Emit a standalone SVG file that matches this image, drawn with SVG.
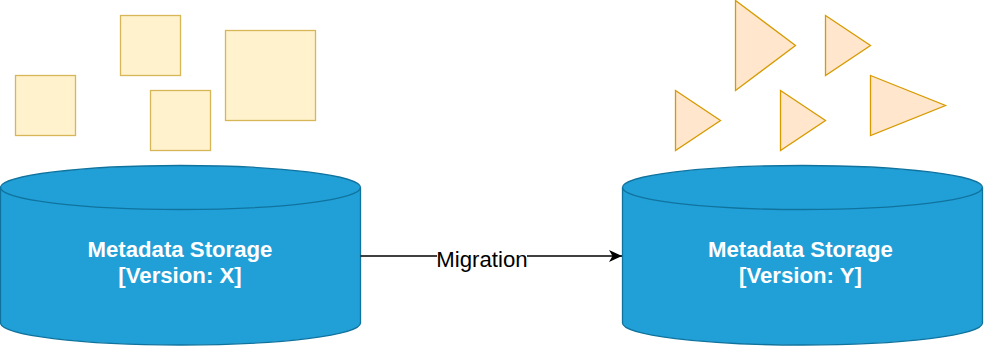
<svg xmlns="http://www.w3.org/2000/svg" width="984" height="347" viewBox="0 0 984 347">
  <style>
    .sq { fill: #fff2cc; stroke: #d6b656; stroke-width: 1.3; }
    .tri { fill: #ffe6cc; stroke: #d79b00; stroke-width: 1.3; stroke-linejoin: miter; }
    .cyl { fill: #21a0d8; stroke: #10739e; stroke-width: 1.3; }
    .cyl-line { fill: none; stroke: #10739e; stroke-width: 1.3; }
    .label { font-family: "Liberation Sans", Arial, Helvetica, sans-serif; font-size: 22.2px; font-weight: bold; fill: #ffffff; text-anchor: middle; }
    .edge { stroke: #000000; stroke-width: 1.3; fill: none; }
    .edge-label { font-family: "Liberation Sans", Arial, Helvetica, sans-serif; font-size: 22.2px; fill: #000000; text-anchor: middle; }
  </style>
  <defs>
    <marker id="arrow" viewBox="0 0 14 12" refX="13" refY="6" markerWidth="14" markerHeight="12" markerUnits="userSpaceOnUse" orient="auto">
      <path d="M0,0 L13,6 L0,12 L3.5,6 Z" fill="#000000"/>
    </marker>
  </defs>

  <g id="squares">
    <rect id="square1" class="sq" x="15.5" y="75.5" width="60" height="60"/>
    <rect id="square2" class="sq" x="120.5" y="15.5" width="60" height="60"/>
    <rect id="square3" class="sq" x="150.5" y="90.5" width="60" height="60"/>
    <rect id="square4" class="sq" x="225.5" y="30.5" width="90" height="90"/>
  </g>

  <g id="triangles">
    <polygon id="triangle1" class="tri" points="735.5,0.5 795.5,45.5 735.5,90.5"/>
    <polygon id="triangle2" class="tri" points="825.5,15.5 870.5,45.5 825.5,75.5"/>
    <polygon id="triangle3" class="tri" points="675.5,90.5 720.5,120.5 675.5,150.5"/>
    <polygon id="triangle4" class="tri" points="780.5,90.5 825.5,120.5 780.5,150.5"/>
    <polygon id="triangle5" class="tri" points="870.5,75.5 945.5,105.5 870.5,135.5"/>
  </g>

  <g id="storage-x">
    <path class="cyl" d="M0.5,187.5 A180,22 0 0 1 360.5,187.5 L360.5,323 A180,22 0 0 1 0.5,323 Z"/>
    <path class="cyl-line" d="M0.5,187.5 A180,22 0 0 0 360.5,187.5"/>
    <text class="label" x="180" y="256.5">Metadata Storage</text>
    <text class="label" x="180" y="282.5">[Version: X]</text>
  </g>

  <g id="storage-y">
    <path class="cyl" d="M622.5,187.5 A180,22 0 0 1 982.5,187.5 L982.5,323 A180,22 0 0 1 622.5,323 Z"/>
    <path class="cyl-line" d="M622.5,187.5 A180,22 0 0 0 982.5,187.5"/>
    <text class="label" x="800.5" y="256.5">Metadata Storage</text>
    <text class="label" x="800.5" y="282.5">[Version: Y]</text>
  </g>

  <g id="connectors">
    <line class="edge" x1="360.5" y1="256" x2="622" y2="256" marker-end="url(#arrow)"/>
    <rect x="437" y="246" width="90" height="22" fill="#ffffff"/>
    <text class="edge-label" x="482" y="266.5">Migration</text>
  </g>
</svg>
